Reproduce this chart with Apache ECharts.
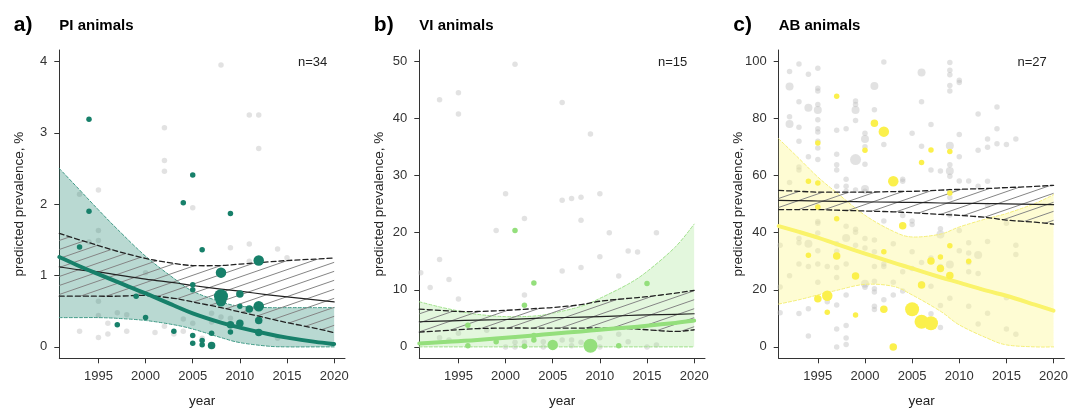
<!DOCTYPE html>
<html><head><meta charset="utf-8">
<script src="https://cdn.jsdelivr.net/npm/echarts@6/dist/echarts.min.js"></script>
<style>html,body{margin:0;padding:0;background:#fff}#c{width:1084px;height:410px}</style>
</head><body><div id="c"></div>
<script>
// ---------- data ----------
const xTicks = [1995, 2000, 2005, 2010, 2015, 2020];
const piYTicks = [0, 1, 2, 3, 4];
const viYTicks = [0, 10, 20, 30, 40, 50];
const abYTicks = [0, 20, 40, 60, 80, 100];

const curveYears = [1990.85, 1993, 1995, 1997, 2000, 2003, 2005, 2008, 2010, 2013, 2015, 2018, 2020];

// PI animals
const piFit   = [1.26, 1.13, 1.02, 0.91, 0.75, 0.58, 0.47, 0.34, 0.27, 0.18, 0.13, 0.07, 0.04];
const piLo    = [0.41, 0.41, 0.41, 0.40, 0.37, 0.31, 0.25, 0.13, 0.06, 0.01, 0.00, 0.00, 0.00];
const piHi    = [2.50, 2.20, 1.92, 1.65, 1.27, 0.96, 0.78, 0.63, 0.57, 0.55, 0.55, 0.55, 0.55];
const piRefFit= [1.12, 1.08, 1.05, 1.01, 0.95, 0.90, 0.86, 0.81, 0.78, 0.73, 0.70, 0.66, 0.63];
const piRefLo = [0.71, 0.71, 0.71, 0.71, 0.72, 0.68, 0.63, 0.55, 0.49, 0.40, 0.34, 0.26, 0.20];
const piRefHi = [1.59, 1.50, 1.42, 1.34, 1.24, 1.17, 1.14, 1.14, 1.16, 1.19, 1.21, 1.23, 1.245];

// VI animals
const viFit   = [0.6, 0.8, 1.0, 1.2, 1.6, 2.0, 2.3, 2.7, 3.0, 3.4, 3.7, 4.2, 4.6];
const viLo    = [0, 0, 0, 0, 0, 0, 0, 0, 0, 0, 0, 0, 0];
const viHi    = [7.9, 7.0, 6.3, 5.7, 5.3, 5.4, 5.9, 7.1, 8.5, 11.0, 13.2, 17.5, 21.5];
const viRefFit= [4.4, 4.5, 4.6, 4.7, 4.8, 5.0, 5.1, 5.2, 5.3, 5.5, 5.6, 5.7, 5.8];
const viRefLo = [2.6, 2.8, 3.0, 3.2, 3.3, 3.3, 3.3, 3.3, 3.3, 3.2, 3.0, 2.7, 3.0];
const viRefHi = [6.6, 6.4, 6.2, 6.2, 6.4, 6.7, 6.9, 7.4, 8.0, 8.5, 8.8, 9.4, 9.9];

// AB animals
const abFit   = [42.3, 40.3, 38.3, 36.0, 32.7, 29.5, 27.5, 24.4, 22.5, 19.6, 17.9, 14.8, 12.7];
const abLo    = [15.0, 16.5, 18.2, 19.8, 21.9, 21.2, 18.2, 12.5, 7.7, 3.0, 0.7, 0.0, 0.0];
const abHi    = [72.9, 66.0, 59.5, 54.0, 46.1, 40.5, 38.5, 39.5, 42.0, 45.0, 46.7, 50.2, 53.3];
const abRefFit= [51.3, 51.2, 51.1, 51.0, 50.8, 50.7, 50.6, 50.4, 50.3, 50.2, 50.1, 49.9, 49.8];
const abRefLo = [48.1, 48.1, 48.1, 47.9, 47.6, 47.3, 47.0, 46.4, 46.1, 45.3, 44.4, 43.7, 43.0];
const abRefHi = [54.8, 54.5, 54.2, 54.2, 54.2, 54.4, 54.5, 54.9, 55.2, 55.5, 55.8, 56.2, 56.6];

// study points: [year, prevalence, weight class]
const piPoints = [[1993,1.40,1],[1994,3.19,1],[1994,1.90,1],[1997,0.31,1],[1999,0.71,1],[2000,0.41,1],[2003,0.22,1],[2004,2.02,1],[2005,2.41,1],[2005,0.87,1],[2005,0.80,1],[2005,0.16,1],[2005,0.05,1],[2006,1.36,1],[2006,0.09,1],[2006,0.03,1],[2007,0.19,1],[2007,0.02,2],[2008,1.04,3],[2008,0.71,4],[2008,0.64,3],[2009,1.87,1],[2009,0.31,2],[2009,0.21,1],[2010,0.74,2],[2010,0.57,1],[2010,0.33,2],[2011,0.53,2],[2012,1.21,3],[2012,0.57,3],[2012,0.37,2],[2012,0.20,2]];
const piGray = [[1993,0.22],[1993,2.14],[1994,1.47],[1995,2.2],[1995,1.63],[1995,1.49],[1995,0.64],[1995,0.44],[1995,0.13],[1996,0.33],[1996,0.18],[1997,0.48],[1998,0.45],[1998,0.22],[2000,1.04],[2001,0.2],[2002,3.07],[2002,2.61],[2002,2.46],[2002,0.29],[2003,0.18],[2004,0.39],[2004,0.22],[2005,1.95],[2005,0.33],[2006,0.12],[2007,0.47],[2007,0.35],[2008,3.95],[2008,0.42],[2009,1.39],[2009,0.4],[2011,3.25],[2011,1.44],[2011,1.2],[2012,3.25],[2012,2.78],[2014,1.37],[2014,0.12],[2015,1.25]];

const viPoints = [[1996,3.8,1],[1996,0.2,1],[1999,0.9,1],[2001,20.4,1],[2002,7.3,1],[2002,0.1,1],[2003,11.2,1],[2003,1.2,1],[2003,2.0,1],[2005,0.35,3],[2009,0.2,4],[2012,0.2,1],[2015,11.1,1]];
const viGray = [[1991,13.0],[1992,10.4],[1993,43.3],[1993,15.3],[1993,1.6],[1994,11.8],[1994,1.2],[1995,44.5],[1995,40.8],[1995,8.4],[1995,2.4],[1998,2.9],[1999,20.4],[2000,26.8],[2000,0],[2001,49.5],[2001,0.8],[2001,0],[2002,22.5],[2002,9.1],[2002,0.8],[2004,0.9],[2004,0],[2006,42.8],[2006,25.7],[2006,13.3],[2006,1.2],[2007,26.0],[2007,1.2],[2007,0.2],[2008,26.2],[2008,22.2],[2008,13.9],[2008,0.8],[2009,37.3],[2010,26.8],[2010,15.8],[2010,1.6],[2010,0],[2011,20.0],[2012,12.4],[2012,2.2],[2013,16.8],[2013,0.9],[2014,16.6],[2015,0],[2016,20.0],[2016,0.35]];

const abPoints = [[1994,58.0,1],[1994,32.1,1],[1995,71.4,1],[1995,57.4,1],[1995,49.0,1],[1995,16.9,2],[1996,17.9,3],[1996,12.1,1],[1997,87.8,1],[1997,44.9,1],[1997,31.8,2],[1999,24.8,2],[1999,11.2,1],[2000,68.9,1],[2001,78.3,2],[2002,75.4,3],[2002,33.3,1],[2002,13.2,2],[2003,58.0,3],[2003,0.0,2],[2004,42.4,2],[2005,13.2,4],[2006,64.6,1],[2006,21.7,2],[2006,8.8,4],[2007,69.0,1],[2007,30.1,2],[2007,8.3,4],[2008,31.5,1],[2008,27.5,2],[2009,68.4,1],[2009,53.9,1],[2009,35.4,1],[2009,25.0,2],[2011,30.0,1]];
const abGray = [[1991,35.6],[1991,21.0],[1991,12.0],[1992,96.5],[1992,91.2,2],[1992,80.6],[1992,78.1,2],[1992,57.6],[1992,24.9],
[1993,99.1],[1993,85.9],[1993,76.9],[1993,72.0],[1993,63.0],[1993,62.0],[1993,38.0],[1993,36.5],[1993,29.0],[1993,11.7],
[1994,95.5],[1994,83.8,2],[1994,66.6],[1994,36.1,2],[1994,28.2],[1994,13.4],[1994,3.8],
[1995,97.6],[1995,90.6],[1995,89.6],[1995,84.9],[1995,83.0,2],[1995,79.6],[1995,76.4],[1995,75.3],[1995,72.0],[1995,69.7],[1995,65.6],[1995,49.0],[1995,43.9],[1995,43.3],[1995,39.9],[1995,33.7],[1995,29.0],[1995,22.6],
[1996,28.2],[1996,15.8],
[1997,75.9],[1997,67.5],[1997,63.8],[1997,62.0],[1997,56.3],[1997,36.1],[1997,33.5],[1997,27.8],[1997,24.3],[1997,14.7],[1997,6.3],[1997,0.0],
[1998,76.4],[1998,58.7],[1998,56.3],[1998,54.5],[1998,42.3],[1998,38.1,2],[1998,29.0],[1998,18.2],[1998,7.5],[1998,3.1],[1998,0.8],
[1999,86.1],[1999,84.9],[1999,83.0,2],[1999,79.3],[1999,65.6,3],[1999,55.0],[1999,41.2],[1999,40.2],[1999,35.6],
[2000,74.8],[2000,72.8,2],[2000,70.1],[2000,64.0],[2000,55.3,2],[2000,54.5],[2000,38.0],[2000,34.6],[2000,22.1,2],[2000,20.9],
[2001,91.4,2],[2001,83.1],[2001,37.4],[2001,33.3],[2001,28.2],[2001,23.0],[2001,20.4],[2001,19.2],[2001,14.2],[2001,13.1],
[2002,99.8],[2002,70.9],[2002,44.1],[2002,29.0],[2002,28.2],[2002,16.5],
[2003,36.1],[2003,22.6],[2003,18.2],
[2004,58.7],[2004,58.0],[2004,46.0],[2004,26.3],[2004,19.6],
[2005,74.8],[2005,44.1],[2005,42.9],[2005,33.3],[2005,27.5],
[2006,96.1,2],[2006,85.9],[2006,70.3],[2006,29.6],[2006,22.1],
[2007,77.9],[2007,62.0],[2007,31.1],[2007,21.2],[2007,11.6],
[2008,61.6],[2008,41.4],[2008,39.4,2],[2008,28.2],[2008,27.5],[2008,14.5],[2008,6.8],
[2009,99.6],[2009,96.9],[2009,95.3],[2009,91.6],[2009,89.6],[2009,70.5,2],[2009,63.8],[2009,61.6,2],[2009,59.8],[2009,54.5],[2009,52.3],[2009,46.2],[2009,28.9,2],[2009,17.0],
[2010,93.4],[2010,92.6],[2010,74.4],[2010,66.6],[2010,58.1],[2010,40.8],[2010,33.7],
[2011,58.1],[2011,36.5],[2011,32.9],[2011,29.6],[2011,26.3],[2011,14.2],
[2012,81.6],[2012,68.9],[2012,56.3],[2012,32.2,2],[2012,25.7],[2012,8.0],
[2013,72.8],[2013,69.9],[2013,58.0],[2013,49.6],[2013,36.9],[2013,11.8],
[2014,84.0],[2014,76.4],[2014,71.2],
[2015,70.9],[2015,43.3],[2015,17.2],[2015,6.3],
[2016,72.8],[2016,35.6],[2016,32.4],[2016,4.4]];

const titles = ['PI animals', 'VI animals', 'AB animals'];
const letters = ['a)', 'b)', 'c)'];
const nLabels = ['n=34', 'n=15', 'n=27'];

// ---------- layout / style ----------
const gridLeft = [59.3, 419.3, 778.7];
const gridTop = 50, gridW = 285.7, gridH = 308.3;
const xMin = 1990.85, xMax = 2021.15;
const yRange = [[-0.16, 4.16], [-2, 52], [-4, 104]];
const yTicksAll = [piYTicks, viYTicks, abYTicks];

const panels = [
  {fit: piFit, lo: piLo, hi: piHi, rFit: piRefFit, rLo: piRefLo, rHi: piRefHi, pts: piPoints, gray: piGray,
   col: '#17806a', band: 'rgba(23,128,106,0.30)', edge: '#3f9a86', ptCol: '#17806a'},
  {fit: viFit, lo: viLo, hi: viHi, rFit: viRefFit, rLo: viRefLo, rHi: viRefHi, pts: viPoints, gray: viGray,
   col: '#94df7c', band: 'rgba(148,223,124,0.26)', edge: '#9fe08a', ptCol: '#94df7c'},
  {fit: abFit, lo: abLo, hi: abHi, rFit: abRefFit, rLo: abRefLo, rHi: abRefHi, pts: abPoints, gray: abGray,
   col: '#faf36a', band: 'rgba(252,248,150,0.42)', edge: '#f4ee78', ptCol: '#fbf04c'}
];

const hatch = (function () {
  const c = document.createElement('canvas');
  const W = 26, H = 9;
  c.width = W; c.height = H;
  const g = c.getContext('2d');
  g.strokeStyle = '#858585'; g.lineWidth = 1;
  [-H, 0, H].forEach(function (dy) {
    g.beginPath(); g.moveTo(0, H + dy); g.lineTo(W, dy); g.stroke();
  });
  return c;
})();

function bez(p, move) {
  let d = (move ? 'M' : 'L') + p[0][0] + ',' + p[0][1];
  for (let i = 0; i < p.length - 1; i++) {
    const p0 = p[i - 1] || p[i], p1 = p[i], p2 = p[i + 1], p3 = p[i + 2] || p[i + 1];
    const c1 = [p1[0] + (p2[0] - p0[0]) / 6, p1[1] + (p2[1] - p0[1]) / 6];
    const c2 = [p2[0] - (p3[0] - p1[0]) / 6, p2[1] - (p3[1] - p1[1]) / 6];
    d += ' C' + c1[0] + ',' + c1[1] + ' ' + c2[0] + ',' + c2[1] + ' ' + p2[0] + ',' + p2[1];
  }
  return d;
}

const sizeMap = [0, 5.5, 7.5, 10.5, 14];
const txt = '#333';
const FONT = '"Liberation Sans", Arial, sans-serif';

const grids = [], xAxes = [], yAxes = [], series = [], graphics = [];
panels.forEach(function (p, gi) {
  grids.push({left: gridLeft[gi], top: gridTop, width: gridW, height: gridH});
  xAxes.push({gridIndex: gi, type: 'value', min: xMin, max: xMax,
    axisLine: {onZero: false, lineStyle: {color: '#333', width: 1}},
    axisTick: {customValues: xTicks, length: 5, lineStyle: {color: '#333'}},
    axisLabel: {customValues: xTicks, formatter: function (v) { return String(v); }, fontSize: 13, color: txt, margin: 12, fontFamily: FONT},
    splitLine: {show: false}});
  yAxes.push({gridIndex: gi, type: 'value', min: yRange[gi][0], max: yRange[gi][1],
    axisLine: {show: true, onZero: false, lineStyle: {color: '#333', width: 1}},
    axisTick: {show: true, customValues: yTicksAll[gi], length: 5, lineStyle: {color: '#333'}},
    axisLabel: {customValues: yTicksAll[gi], formatter: function (v) { return String(v); }, fontSize: 13, color: txt, margin: 12, fontFamily: FONT},
    splitLine: {show: false}});

  series.push({type: 'scatter', xAxisIndex: gi, yAxisIndex: gi, z: 1, silent: true, data: p.gray,
    symbolSize: function (v) { return (v[2] || 1) === 1 ? 5.5 : (v[2] === 2 ? 8 : 11); },
    itemStyle: {color: 'rgba(185,185,185,0.52)'}});

  series.push({type: 'custom', xAxisIndex: gi, yAxisIndex: gi, z: 2, silent: true,
    data: [[curveYears[0], p.fit[0]]],
    renderItem: function (params, api) {
      const pts = function (ys) { return curveYears.map(function (x, i) { return api.coord([x, ys[i]]); }); };
      const hiP = pts(p.hi), loP = pts(p.lo), fP = pts(p.fit), rhP = pts(p.rHi), rlP = pts(p.rLo), rfP = pts(p.rFit);
      const band = function (u, l) { return bez(u, true) + ' ' + bez(l.slice().reverse(), false) + ' Z'; };
      const strokeEl = function (pp, color, w, dash) {
        return {type: 'path', shape: {pathData: bez(pp, true)},
          style: {fill: 'none', stroke: color, lineWidth: w, lineDash: dash || null, lineCap: 'round', lineJoin: 'round'}};
      };
      return {type: 'group', children: [
        {type: 'path', shape: {pathData: band(hiP, loP)}, style: {fill: p.band, stroke: 'none'}},
        strokeEl(hiP, p.edge, 1, [3, 2]),
        strokeEl(loP, p.edge, 1, [3, 2]),
        {type: 'path', shape: {pathData: band(rhP, rlP)}, style: {fill: {image: hatch, repeat: 'repeat'}, stroke: 'none'}},
        strokeEl(rhP, '#222', 1.3, [5, 3]),
        strokeEl(rlP, '#222', 1.3, [5, 3]),
        strokeEl(rfP, '#222', 1.2),
        strokeEl(fP, p.col, 4)
      ]};
    }});

  series.push({type: 'scatter', xAxisIndex: gi, yAxisIndex: gi, z: 3, silent: true, data: p.pts,
    symbolSize: function (v) { return sizeMap[v[2]]; },
    itemStyle: {color: p.ptCol, opacity: 1}});

  const L = gridLeft[gi];
  graphics.push({type: 'text', left: L - 45.5, top: 15, style: {text: letters[gi], font: 'bold 21px ' + FONT, fill: '#000'}});
  graphics.push({type: 'text', x: L, y: 26, style: {text: titles[gi], font: 'bold 15px ' + FONT, fill: '#000', textAlign: 'left', textVerticalAlign: 'middle'}});
  graphics.push({type: 'text', x: L + 268, y: 62, style: {text: nLabels[gi], font: '13px ' + FONT, fill: '#222', textAlign: 'right', textVerticalAlign: 'middle'}});
  graphics.push({type: 'text', x: L + gridW / 2, y: 401, style: {text: 'year', font: '13.5px ' + FONT, fill: '#222', textAlign: 'center', textVerticalAlign: 'middle'}});
  graphics.push({type: 'text', x: L - 40, y: gridTop + gridH / 2, rotation: Math.PI / 2,
    style: {text: 'predicted prevalence, %', font: '13.5px ' + FONT, fill: '#222', textAlign: 'center', textVerticalAlign: 'middle'}});
});

const chart = echarts.init(document.getElementById('c'), null, {renderer: 'canvas'});
chart.setOption({animation: false, grid: grids, xAxis: xAxes, yAxis: yAxes, series: series, graphic: graphics});
</script></body></html>
